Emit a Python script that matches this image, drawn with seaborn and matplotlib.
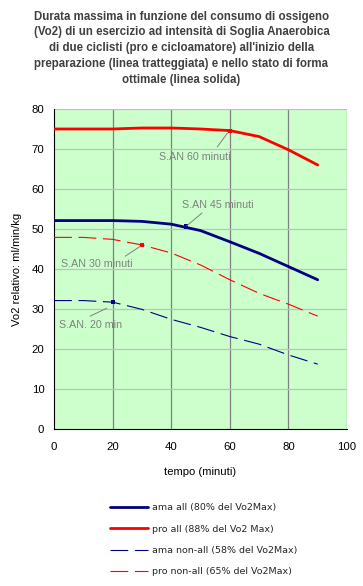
import pandas as pd
import matplotlib.pyplot as plt
import seaborn as sns
from matplotlib.lines import Line2D

# Data
tempo = [0, 10, 20, 30, 40, 50, 60, 70, 80, 90]
pro_all = [75.0, 75.0, 75.0, 75.25, 75.25, 75.0, 74.6, 73.1, 69.8, 66.0]
ama_all = [52.1, 52.1, 52.1, 51.9, 51.2, 49.6, 46.8, 43.9, 40.6, 37.3]
pro_non = [47.9, 47.9, 47.4, 46.0, 44.0, 41.0, 37.3, 33.9, 31.2, 28.2]
ama_non = [32.1, 32.1, 31.7, 29.9, 27.4, 25.4, 23.1, 21.2, 18.5, 16.2]

labels = ["ama all (80% del Vo2Max)", "pro all (88% del Vo2 Max)",
          "ama non-all (58% del Vo2Max)", "pro non-all (65% del Vo2Max)"]

# S.AN marker points and their labels
san_x = [60, 45, 30, 20]
san_y = [74.6, 50.6, 46.0, 31.7]
san_txt = ["S.AN 60 minuti", "S.AN 45 minuti", "S.AN 30 minuti", "S.AN. 20 min"]
san_txt_pos = [(48.1, 68.0), (56.0, 56.0), (14.7, 41.3), (12.6, 26.0)]
san_leader_end = [(55.7, 70.5), (50.5, 54.0), (24.3, 43.2), (12.3, 28.2)]
san_leader_start = [(59.2, 74.0), (45.3, 50.8), (29.3, 45.6), (18.0, 30.2)]

navy = "#000080"
red = "#FF0000"
gray = "#808080"

sns.set_theme(style="white")
plt.rcParams['font.family'] = ['Liberation Sans', 'DejaVu Sans']

df = pd.concat([
    pd.DataFrame({"tempo": tempo, "vo2": v, "serie": lab})
    for v, lab in zip([ama_all, pro_all, ama_non, pro_non], labels)
])

fig = plt.figure(figsize=(3.63, 5.86), dpi=100)
ax = fig.add_axes([0.149, 0.268, 0.807, 0.546])
ax.set_facecolor("#CCFFCC")

styles = {
    labels[0]: dict(color=navy, linewidth=2.0, linestyle="-"),
    labels[1]: dict(color=red, linewidth=2.0, linestyle="-"),
    labels[2]: dict(color=navy, linewidth=0.8, linestyle=(0, (16, 6))),
    labels[3]: dict(color=red, linewidth=0.8, linestyle=(0, (16, 6))),
}
for lab in labels:
    sns.lineplot(data=df[df.serie == lab], x="tempo", y="vo2", ax=ax,
                 legend=False, zorder=3, **styles[lab])

sns.scatterplot(x=san_x, y=san_y, ax=ax, marker="s", s=9,
                hue=[0, 1, 2, 3], palette=[red, navy, red, navy],
                edgecolor="none", legend=False, zorder=4)

for txt, pos, p0, p1 in zip(san_txt, san_txt_pos, san_leader_start, san_leader_end):
    ax.text(pos[0], pos[1], txt, ha="center", va="center",
            fontsize=7.7, color=gray, zorder=5)
    ax.plot([p0[0], p1[0]], [p0[1], p1[1]], color=gray, lw=0.7, zorder=4)

ax.set_xlim(0, 100)
ax.set_ylim(0, 80)
ax.set_xticks(range(0, 101, 20))
ax.set_yticks(range(0, 81, 10))
ax.grid(False)
for x in [20, 40, 60, 80, 100]:
    ax.axvline(x, color=gray, lw=0.9, zorder=1)
for y in range(10, 81, 10):
    ax.axhline(y, color="#C0C0C0", lw=0.9, zorder=1)
for s in ["top", "right"]:
    ax.spines[s].set_visible(False)
for s in ["left", "bottom"]:
    ax.spines[s].set_color("black")
    ax.spines[s].set_linewidth(0.8)
ax.tick_params(axis="both", direction="out", length=3.5, width=0.8, color="black",
               labelsize=8.2, labelcolor="black")
ax.tick_params(axis="x", pad=6)
ax.tick_params(axis="y", pad=3.5)

ax.set_xlabel("tempo (minuti)", fontsize=8.1, color="black", labelpad=11)
ax.set_ylabel("Vo2 relativo: ml/min/kg", fontsize=8.1, color="black", labelpad=7)

fig.text(0.5, 0.982, "Durata massima in funzione del consumo di ossigeno\n"
         "(Vo2) di un esercizio ad intensità di Soglia Anaerobica\n"
         "di due ciclisti (pro e cicloamatore) all'inizio della\n"
         "preparazione (linea tratteggiata) e nello stato di forma\n"
         "ottimale (linea solida)",
         ha="center", va="top", fontsize=8.3, fontweight="bold",
         color="#404040", linespacing=1.42)

handles = [Line2D([], [], **styles[lab]) for lab in labels]
fig.legend(handles, labels, loc="upper left", bbox_to_anchor=(0.303, 0.141),
           frameon=False, prop={"family": "DejaVu Sans", "size": 6.8},
           handlelength=4.0, handletextpad=0.42,
           labelspacing=1.3, borderaxespad=0, borderpad=0)

fig.savefig("out.png", dpi=100)
